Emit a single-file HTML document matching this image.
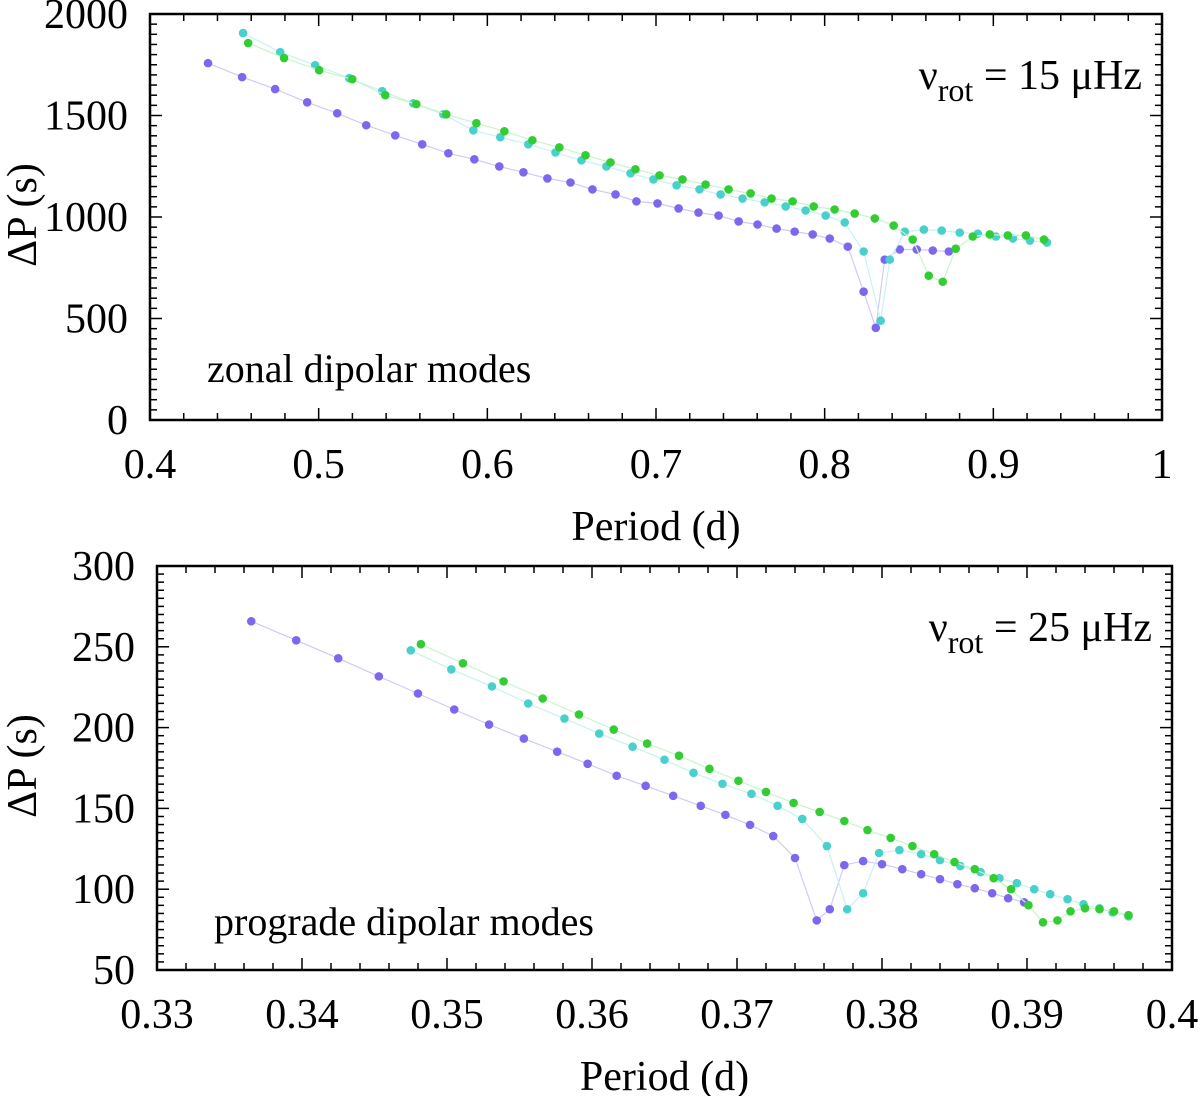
<!DOCTYPE html>
<html><head><meta charset="utf-8"><style>
body{margin:0;background:#fff}
svg{display:block}
text{font-family:"Liberation Serif","DejaVu Serif",serif}
</style></head><body>
<svg id="chart" width="1200" height="1096" viewBox="0 0 1200 1096" xmlns="http://www.w3.org/2000/svg" font-family="Liberation Serif, serif"></svg>
<script>
// ---- Top panel data (zonal, 15 muHz) ----
const topPurpleP=[0.4344,0.4546,0.4742,0.4932,0.5110,0.5282,0.5454,0.5614,0.5769,0.5923,0.6071,0.6214,0.6356,0.6493,0.6623,0.6760,0.6884,0.7009,0.7134,0.7252,0.7371,0.7490,0.7602,0.7715,0.7822,0.7929,0.8030,0.8137,0.8231,0.8303,0.8356,0.8445,0.8546,0.8641,0.8736];
const topPurpleD=[1758,1689,1630,1565,1511,1452,1402,1358,1314,1284,1249,1220,1190,1170,1136,1111,1077,1067,1042,1022,1007,978,963,943,928,914,894,854,632,454,790,840,840,835,830];
const topCyanP=[0.4552,0.4772,0.4979,0.5181,0.5377,0.5561,0.5739,0.5917,0.6077,0.6243,0.6404,0.6558,0.6706,0.6849,0.6985,0.7122,0.7258,0.7383,0.7513,0.7644,0.7769,0.7887,0.8006,0.8119,0.8231,0.8332,0.8386,0.8475,0.8588,0.8694,0.8801,0.8908,0.9015,0.9116,0.9217,0.9318];
const topCyanD=[1906,1812,1748,1684,1620,1560,1506,1427,1393,1358,1318,1279,1249,1215,1185,1156,1136,1111,1091,1072,1052,1032,1007,973,830,489,790,928,938,933,923,918,904,894,884,874];
const topGreenP=[0.4582,0.4795,0.5003,0.5199,0.5395,0.5579,0.5757,0.5935,0.6101,0.6267,0.6427,0.6582,0.6730,0.6878,0.7021,0.7157,0.7294,0.7430,0.7561,0.7685,0.7810,0.7935,0.8059,0.8178,0.8297,0.8409,0.8522,0.8617,0.8700,0.8777,0.8878,0.8979,0.9086,0.9193,0.9300];
const topGreenD=[1857,1783,1723,1679,1600,1556,1506,1462,1422,1378,1343,1304,1269,1235,1205,1185,1160,1136,1116,1091,1077,1052,1037,1017,993,958,889,711,681,844,904,914,909,909,889];
const topXTicks=["0.4","0.5","0.6","0.7","0.8","0.9","1"];
const topYTicks=["0","500","1000","1500","2000"];
// ---- Bottom panel data (prograde, 25 muHz) ----
const botPurpleP=[0.3365,0.3396,0.3425,0.3453,0.3480,0.3505,0.3529,0.3553,0.3576,0.3597,0.3617,0.3637,0.3656,0.3675,0.3692,0.3709,0.3725,0.3740,0.3755,0.3764,0.3774,0.3787,0.3800,0.3814,0.3827,0.3840,0.3852,0.3864,0.3876,0.3887,0.3898];
const botPurpleD=[265.8,254.0,242.9,231.7,221.1,211.2,201.9,193.2,185.1,177.6,170.2,164.0,157.8,151.6,146.0,139.8,132.9,119.3,80.7,87.6,114.9,117.4,115.5,112.4,109.3,106.2,103.1,100.6,97.5,94.4,91.9];
const botCyanP=[0.3475,0.3503,0.3531,0.3556,0.3581,0.3605,0.3628,0.3650,0.3670,0.3690,0.3710,0.3728,0.3745,0.3762,0.3776,0.3787,0.3798,0.3812,0.3827,0.3840,0.3854,0.3868,0.3881,0.3893,0.3905,0.3916,0.3928,0.3939,0.3950,0.3959,0.3970];
const botCyanD=[247.8,236.0,225.5,214.9,205.6,196.3,188.2,180.1,172.0,165.2,159.0,151.6,143.5,126.7,87.6,97.5,122.4,124.2,121.7,118.0,114.3,110.6,106.8,103.7,100.0,96.9,93.8,90.7,88.2,85.7,83.2];
const botGreenP=[0.3482,0.3511,0.3539,0.3566,0.3591,0.3615,0.3638,0.3660,0.3681,0.3701,0.3720,0.3739,0.3757,0.3774,0.3790,0.3806,0.3821,0.3836,0.3850,0.3864,0.3877,0.3889,0.3901,0.3911,0.3921,0.3930,0.3940,0.3950,0.3960,0.3970];
const botGreenD=[251.6,239.8,228.6,218.0,208.1,198.8,190.1,182.6,174.5,167.1,160.2,153.4,147.8,142.2,136.6,131.7,126.7,121.7,116.8,112.4,106.8,100.0,90.1,79.5,80.7,86.3,88.2,87.6,86.3,83.9];
const botXTicks=["0.33","0.34","0.35","0.36","0.37","0.38","0.39","0.4"];
const botYTicks=["50","100","150","200","250","300"];

const NS="http://www.w3.org/2000/svg";
const svg=document.getElementById('chart');
const FF='"Liberation Serif", serif';
function mk(tag,attrs,parent,text){const e=document.createElementNS(NS,tag);for(const k in attrs)e.setAttribute(k,attrs[k]);if(tag==='text'){e.style.fontFamily=FF;}if(text!==undefined)e.textContent=text;(parent||svg).appendChild(e);return e;}

function panel(cfg){
  const g=mk('g',{});
  
  
  const {L,R,T,B,x0,x1,y0,y1}=cfg;
  const sx=v=>L+(v-x0)/(x1-x0)*(R-L);
  const sy=v=>B-(v-y0)/(y1-y0)*(B-T);
  const tk=mk('g',{stroke:'#000','stroke-width':1.5},g);
  
  
  const xs=(x1-x0)/cfg.xMinorN;
  for(let i=0;i<=cfg.xMinorN;i++){const x=sx(x0+i*xs);const len=(i%cfg.xSub===0)?12:7;
    mk('line',{x1:x,y1:B,x2:x,y2:B-len},tk);mk('line',{x1:x,y1:T,x2:x,y2:T+len},tk);}
  const ys=(y1-y0)/cfg.yMinorN;
  for(let i=0;i<=cfg.yMinorN;i++){const y=sy(y0+i*ys);const len=(i%cfg.ySub===0)?12:7;
    mk('line',{x1:L,y1:y,x2:L+len,y2:y},tk);mk('line',{x1:R,y1:y,x2:R-len,y2:y},tk);}
  const fr=mk('rect',{x:L,y:T,width:R-L,height:B-T,fill:'none',stroke:'#000','stroke-width':2.5},g);
  
  
  cfg.xTicks.forEach(t=>{const e=mk('text',{x:sx(parseFloat(t)),y:B+58,'font-size':42,'text-anchor':'middle'},g,t);
    
    });
  cfg.yTicks.forEach(t=>{const e=mk('text',{x:L-22,y:sy(parseFloat(t))+14,'font-size':42,'text-anchor':'end'},g,t);
    
    });
  const xt=mk('text',{x:(L+R)/2,y:B+120,'font-size':42,'text-anchor':'middle'},g,'Period (d)');
  
  
  const yt=mk('text',{x:0,y:0,'font-size':42,'text-anchor':'middle',transform:`translate(36,${(T+B)/2-2}) rotate(-90)`},g,'ΔP (s)');
  
  
  cfg.series.forEach(s=>{
    const sg=mk('g',{},g);
    
    
    const pts=s.P.map((p,i)=>sx(p).toFixed(1)+','+sy(s.D[i]).toFixed(1)).join(' ');
    const ln=mk('polyline',{points:pts,fill:'none',stroke:s.line,'stroke-width':1.2},sg);
    
    
    s.P.forEach((p,i)=>{const c=mk('circle',{cx:sx(p),cy:sy(s.D[i]),r:4.3,fill:s.color},sg);
      
      });
  });
  const a=mk('text',{x:L+57,y:cfg.annY,'font-size':40},g,cfg.ann);
  
  
  const r=mk('text',{x:R-20,y:T+75,'font-size':42,'text-anchor':'end'},g);
  
  
  mk('tspan',{},r,'ν');
  mk('tspan',{dy:12,'font-size':32},r,'rot');
  mk('tspan',{dy:-12},r,' = '+cfg.rot+' μHz');
}
const P='#7b68ee',C='#48d1cc',G='#32cd32';
panel({name:'top-panel',L:150,R:1162,T:14,B:420,x0:0.4,x1:1,y0:0,y1:2000,xMinorN:30,xSub:5,yMinorN:40,ySub:10,
  xTicks:topXTicks,yTicks:topYTicks,ann:'zonal dipolar modes',annY:382,rot:'15',
  series:[{name:'top-series-purple',P:topPurpleP,D:topPurpleD,color:P,line:'#cfcbf5'},
          {name:'top-series-cyan',P:topCyanP,D:topCyanD,color:C,line:'#c8f2f0'},
          {name:'top-series-green',P:topGreenP,D:topGreenD,color:G,line:'#c8f5c8'}]});
panel({name:'bottom-panel',L:157,R:1172,T:566,B:970,x0:0.33,x1:0.4,y0:50,y1:300,xMinorN:35,xSub:5,yMinorN:50,ySub:10,
  xTicks:botXTicks,yTicks:botYTicks,ann:'prograde dipolar modes',annY:935,rot:'25',
  series:[{name:'bottom-series-purple',P:botPurpleP,D:botPurpleD,color:P,line:'#cfcbf5'},
          {name:'bottom-series-cyan',P:botCyanP,D:botCyanD,color:C,line:'#c8f2f0'},
          {name:'bottom-series-green',P:botGreenP,D:botGreenD,color:G,line:'#c8f5c8'}]});
</script>
</body></html>
